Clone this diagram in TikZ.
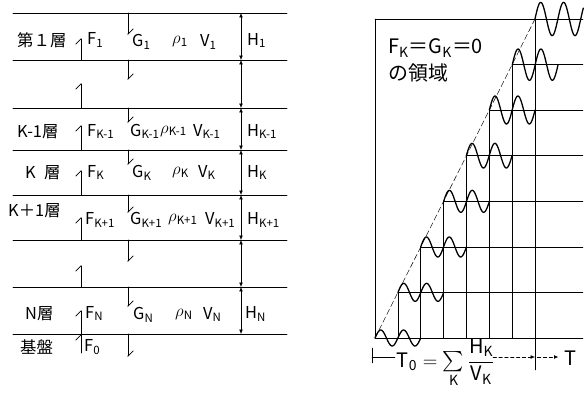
\documentclass[tikz,border=0pt]{standalone}
\usepackage{amsmath}
\usepackage{fontspec}
\setmainfont{Noto Sans CJK JP}
\usetikzlibrary{arrows.meta}

\begin{document}
\begin{tikzpicture}[line cap=round,font=\fontsize{14}{16}\selectfont,
  lbl/.style={anchor=west,inner sep=0pt},
  big/.style={font=\fontsize{17}{19}\selectfont},
  bound/.style={line width=0.6pt},
  flux/.style={line width=0.6pt,-{Straight Barb[harpoon,length=1.6mm,width=3.2mm]}},
  dim/.style={line width=0.5pt,{Latex[length=1.3mm,width=1.1mm]}-{Latex[length=1.3mm,width=1.1mm]}},
  gridline/.style={line width=0.4pt},
  wave/.style={line width=1.1pt,line join=round}]
\useasboundingbox (0,0) rectangle (17.55,11.82);
% layers
\draw[bound] (0.39,11.43) -- (8.61,11.43);
\draw[bound] (0.39,10.02) -- (8.61,10.02);
\draw[bound] (0.39,8.58) -- (8.61,8.58);
\draw[bound] (0.39,7.32) -- (8.61,7.32);
\draw[bound] (0.39,5.97) -- (8.61,5.97);
\draw[bound] (0.39,4.62) -- (8.61,4.62);
\draw[bound] (0.39,3.21) -- (8.61,3.21);
\draw[bound] (0.39,1.80) -- (8.61,1.80);
% thicknesses
\draw[dim] (7.23,11.43) -- (7.23,10.02);
\draw[dim] (7.23,10.02) -- (7.23,8.58);
\draw[dim] (7.23,8.58) -- (7.23,7.32);
\draw[dim] (7.23,7.32) -- (7.23,5.97);
\draw[dim] (7.23,5.97) -- (7.23,4.62);
\draw[dim] (7.23,4.62) -- (7.23,3.21);
\draw[dim] (7.23,3.21) -- (7.23,1.80);
% upgoing
\draw[flux] (2.43,10.02) -- (2.43,10.68);
\draw[flux] (2.43,8.58) -- (2.43,9.33);
\draw[flux] (2.43,7.32) -- (2.43,8.07);
\draw[flux] (2.43,5.97) -- (2.43,6.72);
\draw[flux] (2.43,4.62) -- (2.43,5.31);
\draw[flux] (2.43,3.21) -- (2.43,3.87);
\draw[flux] (2.43,1.80) -- (2.43,2.52);
\draw[flux] (2.43,1.23) -- (2.43,1.80);
% downgoing
\draw[flux] (3.84,11.43) -- (3.84,10.77);
\draw[flux] (3.84,10.02) -- (3.84,9.42);
\draw[flux] (3.84,8.58) -- (3.84,8.13);
\draw[flux] (3.84,7.32) -- (3.84,6.87);
\draw[flux] (3.84,5.97) -- (3.84,5.43);
\draw[flux] (3.84,4.62) -- (3.84,3.96);
\draw[flux] (3.84,3.21) -- (3.84,2.61);
\draw[flux] (3.84,1.80) -- (3.84,1.11);
% labels
\node[lbl] (lay1) at (0.51,10.62) {第１層};
\node[lbl] (f1) at (2.61,10.62) {F\textsubscript{1}};
\node[lbl] (g1) at (3.96,10.56) {G\textsubscript{1}};
\node[lbl] (r1) at (5.16,10.56) {$\rho$\textsubscript{1}};
\node[lbl] (v1) at (6.00,10.56) {V\textsubscript{1}};
\node[lbl] (h1) at (7.41,10.60) {H\textsubscript{1}};
\node[lbl] (layk1) at (0.51,7.88) {K-1層};
\node[lbl] (fk1) at (2.61,7.88) {F\textsubscript{K-1}};
\node[lbl] (gk1) at (3.90,7.88) {G\textsubscript{K-1}};
\node[lbl] (rk1) at (4.80,7.88) {$\rho$\textsubscript{K-1}};
\node[lbl] (vk1) at (5.79,7.88) {V\textsubscript{K-1}};
\node[lbl] (hk1) at (7.41,7.88) {H\textsubscript{K-1}};
\node[lbl] (layk) at (0.75,6.64) {K\hspace{0.5em}層};
\node[lbl] (fk) at (2.61,6.64) {F\textsubscript{K}};
\node[lbl] (gk) at (3.96,6.64) {G\textsubscript{K}};
\node[lbl] (rk) at (5.16,6.64) {$\rho$\textsubscript{K}};
\node[lbl] (vk) at (5.94,6.64) {V\textsubscript{K}};
\node[lbl] (hk) at (7.41,6.64) {H\textsubscript{K}};
\node[lbl] (layk2) at (0.24,5.49) {K＋1層};
\node[lbl] (fk2) at (2.55,5.22) {F\textsubscript{K+1}};
\node[lbl] (gk2) at (3.90,5.22) {G\textsubscript{K+1}};
\node[lbl] (rk2) at (5.04,5.22) {$\rho$\textsubscript{K+1}};
\node[lbl] (vk2) at (6.15,5.22) {V\textsubscript{K+1}};
\node[lbl] (hk2) at (7.41,5.22) {H\textsubscript{K+1}};
\node[lbl] (layn) at (0.75,2.42) {N層};
\node[lbl] (fn) at (2.55,2.42) {F\textsubscript{N}};
\node[lbl] (gn) at (3.99,2.38) {G\textsubscript{N}};
\node[lbl] (rn) at (5.25,2.38) {$\rho$\textsubscript{N}};
\node[lbl] (vn) at (6.09,2.38) {V\textsubscript{N}};
\node[lbl] (hn) at (7.35,2.40) {H\textsubscript{N}};
\node[lbl] (base) at (0.60,1.41) {基盤};
\node[lbl] (f0) at (2.52,1.41) {F\textsubscript{0}};
% right: frame and levels
\draw[gridline] (11.25,11.25) -- (11.25,1.68);
\draw[gridline] (11.25,11.25) -- (17.49,11.25);
\draw[gridline] (11.25,1.68) -- (17.49,1.68);
\draw[gridline] (11.94,3.05) -- (17.49,3.05);
\draw[gridline] (12.62,4.41) -- (17.49,4.41);
\draw[gridline] (13.31,5.78) -- (17.49,5.78);
\draw[gridline] (13.99,7.15) -- (17.49,7.15);
\draw[gridline] (14.68,8.52) -- (17.49,8.52);
\draw[gridline] (15.37,9.88) -- (17.49,9.88);
\draw[gridline] (11.94,3.05) -- (11.94,1.68);
\draw[gridline] (12.62,4.41) -- (12.62,1.68);
\draw[gridline] (13.31,5.78) -- (13.31,1.68);
\draw[gridline] (13.99,7.15) -- (13.99,1.68);
\draw[gridline] (14.68,8.52) -- (14.68,1.68);
\draw[gridline] (15.37,9.88) -- (15.37,1.68);
\draw[gridline] (16.05,11.25) -- (16.05,0.72);
\draw[gridline,dash pattern=on 5pt off 2.5pt] (11.25,1.68) -- (16.05,11.25);
% arrivals
\draw[wave] plot[domain=0:1.372,samples=60] ({11.25+\x},{1.68+0.24*sin(524.8*\x)});
\draw[wave] plot[domain=0:1.372,samples=60] ({11.94+\x},{3.05+0.27*sin(524.8*\x)});
\draw[wave] plot[domain=0:1.372,samples=60] ({12.62+\x},{4.41+0.30*sin(524.8*\x)});
\draw[wave] plot[domain=0:1.372,samples=60] ({13.31+\x},{5.78+0.33*sin(524.8*\x)});
\draw[wave] plot[domain=0:1.372,samples=60] ({13.99+\x},{7.15+0.37*sin(524.8*\x)});
\draw[wave] plot[domain=0:1.372,samples=60] ({14.68+\x},{8.52+0.42*sin(524.8*\x)});
\draw[wave] plot[domain=0:1.372,samples=60] ({15.37+\x},{9.88+0.47*sin(524.8*\x)});
\draw[wave] plot[domain=0:1.45,samples=60] ({16.05+\x},{11.25+0.50*sin(524.8*\x)});
\node[lbl,big] (zero) at (11.64,10.38) {F\textsubscript{K}＝G\textsubscript{K}＝0};
\node[lbl,big] (zone) at (11.64,9.63) {の領域};
% time axis
\coordinate (t0) at (11.16,1.11);
\coordinate (t1) at (11.85,1.11);
\coordinate (t2) at (14.79,1.11);
\coordinate (t3) at (16.05,1.11);
\coordinate (t4) at (16.12,1.11);
\coordinate (t5) at (16.75,1.11);
\draw[gridline] (11.16,1.38) -- (11.16,0.93);
\draw[gridline] (t0) -- (t1);
\node[big,anchor=base west,inner sep=0pt] (sum) at (11.90,0.81)
  {$\text{T}_{\text{0}}=\sum\limits_{\text{K}}\dfrac{\text{H}_{\text{K}}}{\text{V}_{\text{K}}}$};
\draw[gridline,densely dashed,-{Latex[length=1.3mm,width=1.1mm]}] (t2) -- (t3);
\draw[gridline,densely dashed,-{Latex[length=1.3mm,width=1.1mm]}] (t4) -- (t5);
\node[lbl,big] (time) at (16.92,1.08) {T};
\end{tikzpicture}
\end{document}
